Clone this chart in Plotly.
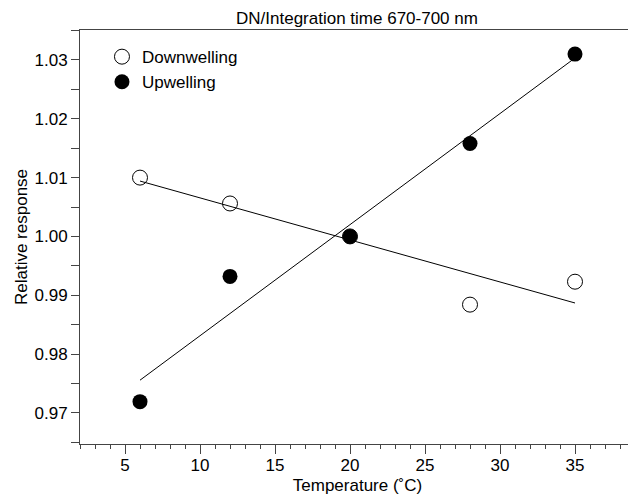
import numpy as np
import plotly.graph_objects as go

temperature = [6, 12, 20, 28, 35]
downwelling = [1.0100, 1.0056, 1.0000, 0.9884, 0.9923]
upwelling = [0.9719, 0.9932, 1.0000, 1.0158, 1.0310]

x_ticks = [5, 10, 15, 20, 25, 30, 35]
y_ticks = [0.97, 0.98, 0.99, 1.00, 1.01, 1.02, 1.03]
y_tick_labels = ["0.97", "0.98", "0.99", "1.00", "1.01", "1.02", "1.03"]

FONT = "Liberation Sans, Arial, Helvetica, sans-serif"
FS = 17

def fit_line(x, y):
    m, b = np.polyfit(x, y, 1)
    xs = [min(x), max(x)]
    return xs, [m * v + b for v in xs]

fig = go.Figure()

fx, fy = fit_line(temperature, downwelling)
fig.add_trace(go.Scatter(x=fx, y=fy, mode="lines", line=dict(color="black", width=1),
                         showlegend=False, hoverinfo="skip"))
fx, fy = fit_line(temperature, upwelling)
fig.add_trace(go.Scatter(x=fx, y=fy, mode="lines", line=dict(color="black", width=1),
                         showlegend=False, hoverinfo="skip"))

fig.add_trace(go.Scatter(x=temperature, y=downwelling, mode="markers", name="Downwelling",
                         marker=dict(symbol="circle-open", size=15, color="black",
                                     line=dict(width=1, color="black"))))
fig.add_trace(go.Scatter(x=temperature, y=upwelling, mode="markers", name="Upwelling",
                         marker=dict(symbol="circle", size=15, color="black",
                                     line=dict(width=0))))

axis_common = dict(showgrid=False, zeroline=False, showline=True, linecolor="#444",
                   linewidth=1, mirror=True, ticks="outside", tickcolor="#444",
                   automargin=False,
                   tickfont=dict(family=FONT, size=FS, color="black"))

fig.update_xaxes(range=[2, 39], tickvals=x_ticks, ticklen=9, tickwidth=1,
                 ticklabelstandoff=-3,
                 minor=dict(dtick=1, ticklen=4, ticks="outside", tickcolor="#444", tickwidth=1),
                 title=dict(text="Temperature (˚C)", font=dict(family=FONT, size=FS, color="black"),
                            standoff=4),
                 **axis_common)
fig.update_yaxes(range=[0.9647, 1.0351], tickvals=y_ticks, ticktext=y_tick_labels,
                 ticklen=8, tickwidth=1,
                 minor=dict(dtick=0.005, tick0=0.965, ticklen=8, ticks="outside",
                            tickcolor="#444", tickwidth=1),
                 title=dict(text="Relative response", font=dict(family=FONT, size=FS, color="black"),
                            standoff=2),
                 **axis_common)

# page body adds an 8px offset, so the figure is 8px smaller than the window
fig.update_layout(
    width=628, height=487,
    margin=dict(l=72, r=1, t=22, b=51),
    paper_bgcolor="white", plot_bgcolor="white",
    title=dict(text="DN/Integration time 670-700 nm", x=0.5557, xanchor="center",
               y=0.9795, yanchor="middle", automargin=False,
               font=dict(family=FONT, size=FS, color="black")),
    legend=dict(x=0.0396, y=0.978, xanchor="left", yanchor="top",
                bgcolor="rgba(0,0,0,0)", font=dict(family=FONT, size=FS, color="black"),
                itemwidth=30, tracegroupgap=0),
    showlegend=True,
)

fig.write_html("out.html")
